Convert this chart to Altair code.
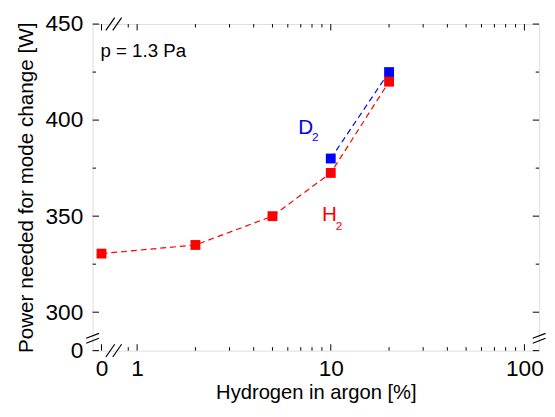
import math
import altair as alt
import pandas as pd

# ---------------- data ----------------
h2_x = [0, 2, 5, 10, 20]
h2_y = [330.5, 335, 350, 372.5, 420]
d2_x = [10, 20]
d2_y = [380, 425]

x_tick_values = [0, 1, 10, 100]
x_tick_labels = ["0", "1", "10", "100"]
x_minor = [0.9, 2, 3, 4, 5, 6, 7, 8, 9, 20, 30, 40, 50, 60, 70, 80, 90]
y_tick_values = [280, 300, 350, 400, 450]
y_tick_labels = ["0", "300", "350", "400", "450"]
y_minor = [325, 375, 425]

# ---------------- scale geometry ----------------
ZERO_U = -0.184          # where the "0" sits left of the axis break
U_MIN, U_MAX = -0.23, 2.076
V_MIN, V_MAX = 280, 450
W, H = 454, 332
PX_U = W / (U_MAX - U_MIN)
PX_V = H / (V_MAX - V_MIN)
FONT = "Liberation Sans"


def to_u(x):
    return math.log10(x) if x > 0 else ZERO_U


xscale = alt.Scale(domain=[U_MIN, U_MAX], nice=False, zero=False)
yscale = alt.Scale(domain=[V_MIN, V_MAX], nice=False, zero=False)

x_vals_u = [to_u(v) for v in x_tick_values]
x_label_expr = " : ".join(
    [f"abs(datum.value - ({u})) < 0.01 ? '{lab}'" for u, lab in zip(x_vals_u, x_tick_labels)]
) + " : ''"
y_label_expr = " : ".join(
    [f"datum.value == {v} ? '{lab}'" for v, lab in zip(y_tick_values, y_tick_labels)]
) + " : ''"

xaxis = alt.Axis(values=x_vals_u, labelExpr=x_label_expr, ticks=False, domain=False, grid=False,
                 labelFont=FONT, labelFontSize=23, labelPadding=7, labelColor="black",
                 title="Hydrogen in argon [%]", titleFont=FONT, titleFontSize=20.5,
                 titleFontWeight="normal", titlePadding=3, titleColor="black")
yaxis = alt.Axis(values=y_tick_values, labelExpr=y_label_expr, ticks=False, domain=False, grid=False,
                 labelFont=FONT, labelFontSize=23, labelPadding=10, labelColor="black",
                 title="Power needed for mode change [W]", titleFont=FONT, titleFontSize=21,
                 titleFontWeight="normal", titlePadding=9, titleColor="black")


def X(f="u"):
    return alt.X(f"{f}:Q", scale=xscale, axis=xaxis)


def Y(f="v"):
    return alt.Y(f"{f}:Q", scale=yscale, axis=yaxis)


# ---------------- inward ticks on all four sides ----------------
rows = []
for xv in x_tick_values + x_minor:
    L = 6.5 if xv in x_tick_values else 3.5
    u = to_u(xv)
    rows.append(dict(u=u, u2=u, v=V_MIN, v2=V_MIN + L / PX_V))
    rows.append(dict(u=u, u2=u, v=V_MAX, v2=V_MAX - L / PX_V))
for yv in y_tick_values + y_minor:
    L = 6.5 if yv in y_tick_values else 3.5
    rows.append(dict(u=U_MIN, u2=U_MIN + L / PX_U, v=yv, v2=yv))
    rows.append(dict(u=U_MAX, u2=U_MAX - L / PX_U, v=yv, v2=yv))
ticks_df = pd.DataFrame(rows)

# ---------------- axis-break slashes ----------------
brk = []
for uc in [U_MIN + 18 / PX_U, U_MIN + 25 / PX_U]:
    for vb in [V_MIN, V_MAX]:
        brk.append(dict(u=uc - 4.5 / PX_U, u2=uc + 4.5 / PX_U, v=vb - 6.5 / PX_V, v2=vb + 6.5 / PX_V))
for vc in [V_MIN + 15 / PX_V, V_MIN + 10 / PX_V]:
    for ub in [U_MIN, U_MAX]:
        brk.append(dict(u=ub - 6.5 / PX_U, u2=ub + 6.5 / PX_U, v=vc - 2.5 / PX_V, v2=vc + 2.5 / PX_V))
brk_df = pd.DataFrame(brk)

h2 = pd.DataFrame({"u": [to_u(v) for v in h2_x], "v": h2_y})
d2 = pd.DataFrame({"u": [to_u(v) for v in d2_x], "v": d2_y})

ann = pd.DataFrame([
    dict(u=U_MIN + 8 / PX_U, v=433.0, t="p = 1.3 Pa", s=19, c="black"),
    dict(u=math.log10(6.8), v=392.7, t="D", s=21, c="#0000ff"),
    dict(u=math.log10(6.8) + 14 / PX_U, v=389.0, t="2", s=12, c="#0000ff"),
    dict(u=math.log10(9.0), v=347.6, t="H", s=21, c="#ff0000"),
    dict(u=math.log10(9.0) + 14 / PX_U, v=343.0, t="2", s=12, c="#ff0000"),
])

tick_layer = alt.Chart(ticks_df).mark_rule(color="black", strokeWidth=1).encode(
    x=X(), x2="u2:Q", y=Y(), y2="v2:Q")
brk_layer = alt.Chart(brk_df).mark_rule(color="black", strokeWidth=1.2).encode(
    x=X(), x2="u2:Q", y=Y(), y2="v2:Q")

d2_line = alt.Chart(d2).mark_line(color="#0000ff", strokeDash=[6, 4], strokeWidth=1.2).encode(
    x=X(), y=Y())
h2_line = alt.Chart(h2).mark_line(color="#ff0000", strokeDash=[6, 4], strokeWidth=1.2).encode(
    x=X(), y=Y())
d2_pts = alt.Chart(d2).mark_square(color="#0000ff", size=100, opacity=1).encode(x=X(), y=Y())
h2_pts = alt.Chart(h2).mark_square(color="#ff0000", size=100, opacity=1).encode(x=X(), y=Y())

text_layer = alt.Chart(ann).mark_text(align="left", baseline="alphabetic", font=FONT).encode(
    x=X(), y=Y(), text="t:N",
    size=alt.Size("s:Q", scale=None),
    color=alt.Color("c:N", scale=None))

chart = alt.layer(tick_layer, brk_layer, d2_line, h2_line, d2_pts, h2_pts, text_layer).properties(
    width=W, height=H,
    padding={"left": 7, "top": 2, "right": 0, "bottom": 0},
).configure_view(stroke="black", strokeWidth=1.5).configure(background="white")

chart.save("out.html", embed_options={"renderer": "svg", "actions": False})
